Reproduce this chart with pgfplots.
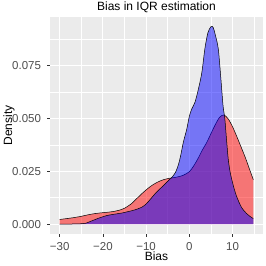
\documentclass[border=0pt]{standalone}
\usepackage{fontspec}
\setmainfont{Liberation Sans}
\usepackage{pgfplots}
\pgfplotsset{compat=1.18}
\usepackage{pgfplotstable}
\definecolor{panel}{HTML}{EBEBEB}
\definecolor{ticklab}{HTML}{4D4D4D}
\definecolor{tickcol}{HTML}{333333}

\pgfplotstableread{
x y
-30 0.0022
-27 0.0030
-25 0.0037
-23 0.0046
-21 0.0052
-19 0.0056
-17.5 0.0060
-16 0.0067
-15 0.0075
-13.5 0.0095
-12 0.0124
-10.5 0.0153
-9 0.0178
-7.5 0.0197
-6 0.0210
-4.5 0.0217
-3 0.0222
-1.5 0.0230
0 0.0248
1 0.0275
2 0.0310
3 0.0350
4 0.0385
5 0.0428
6 0.0470
7 0.0505
8 0.0516
9 0.0497
10 0.0460
11 0.0413
12 0.0363
13 0.0312
14 0.0255
14.8 0.0210
}\redtab

\pgfplotstableread{
x y
-30 0.0000
-26 0.0001
-24 0.0004
-23 0.0012
-22 0.0020
-21 0.0028
-20 0.0035
-19 0.0041
-18 0.0045
-17 0.0048
-15.5 0.0053
-14 0.0060
-12.5 0.0068
-11 0.0080
-10 0.0095
-9 0.0118
-8 0.0142
-7 0.0163
-6 0.0182
-5 0.0203
-4 0.0222
-3.2 0.0245
-2.5 0.0283
-2 0.0325
-1.4 0.0386
-0.6 0.0449
0 0.0510
0.55 0.0544
1.3 0.0576
2.1 0.0639
2.9 0.0718
3.6 0.0830
4.3 0.0905
5 0.0933
5.5 0.0930
6 0.0895
6.7 0.0828
7.3 0.0686
7.8 0.0559
8.2 0.0500
8.6 0.0400
9.0 0.0307
9.4 0.0250
9.8 0.0212
10.4 0.0165
10.9 0.0133
11.5 0.0103
12.1 0.0078
12.7 0.0062
13.2 0.0051
14 0.0037
14.8 0.0026
}\bluetab

\begin{document}
\begin{tikzpicture}
\useasboundingbox (-50bp,-32bp) rectangle (216bp,234bp);
\begin{axis}[
  at={(0,0)}, anchor=south west,
  scale only axis,
  width=213bp, height=217bp,
  xmin=-32.24, xmax=17.04,
  ymin=-0.00467, ymax=0.0979,
  scaled y ticks=false, scaled x ticks=false,
  axis background/.style={fill=panel},
  axis line style={draw=none},
  xtick={-30,-20,-10,0,10},
  xticklabels={−30,−20,−10,0,10},
  ytick={0,0.025,0.05,0.075},
  yticklabels={0.000,0.025,0.050,0.075},
  minor xtick={-25,-15,-5,5,15},
  minor ytick={0.0125,0.0375,0.0625,0.0875},
  grid=both,
  major grid style={white, line width=1.1bp},
  minor grid style={white, line width=0.55bp},
  xtick pos=bottom, ytick pos=left,
  tick align=outside,
  major tick length=2.75bp,
  minor tick length=0pt,
  tick style={tickcol, line width=0.5bp},
  tick label style={font=\fontsize{11.5bp}{13bp}\selectfont, text=ticklab},
  xticklabel style={yshift=-1.8bp},
  yticklabel style={xshift=-2.75bp},
  every axis title shift=0pt,
  title={Bias in IQR estimation},
  title style={at={(axis description cs:0.5,1.03)}, anchor=base, xshift=0pt, yshift=0pt, font=\fontsize{12bp}{14bp}\selectfont},
  xlabel={Bias},
  xlabel style={at={(axis description cs:0.5,-0.121)}, anchor=base, xshift=0pt, yshift=0pt, font=\fontsize{12bp}{14bp}\selectfont},
  ylabel={Density},
  ylabel style={at={(axis description cs:-0.178,0.5)}, anchor=base, xshift=0pt, yshift=0pt, font=\fontsize{12bp}{14bp}\selectfont},
]
\addplot[draw=none, fill=red, fill opacity=0.5, smooth, tension=0.5] table {\redtab} \closedcycle;
\addplot[black, line width=0.5bp, smooth, tension=0.5] table {\redtab};
\addplot[draw=none, fill=blue, fill opacity=0.5, smooth, tension=0.5] table {\bluetab} \closedcycle;
\addplot[black, line width=0.5bp, smooth, tension=0.5] table {\bluetab};
\end{axis}
\end{tikzpicture}
\end{document}
